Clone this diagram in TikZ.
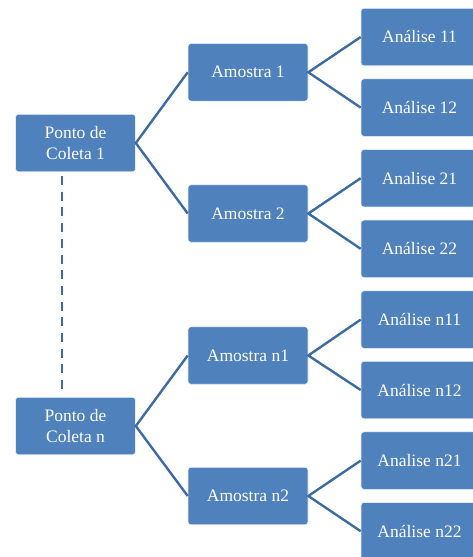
\documentclass[tikz,border=0pt]{standalone}
\usepackage{fontspec}
\setmainfont{Liberation Serif}
\definecolor{boxblue}{HTML}{4F81BD}
\definecolor{linkblue}{HTML}{3D6CA3}
\begin{document}
\begin{tikzpicture}[x=1pt,y=-1pt,
  box/.style={fill=boxblue, draw=white!85!boxblue, line width=0.6pt, rounded corners=3pt,
    minimum width=120pt, minimum height=57.5pt, inner sep=0pt, align=center,
    text=white, font=\fontsize{17.5}{20.5}\selectfont},
  abox/.style={box, minimum width=117pt},
  link/.style={draw=linkblue, line width=2.4pt},
  dlink/.style={draw=linkblue, line width=2.2pt, dash pattern=on 9pt off 6.7pt}]
\useasboundingbox (0,0) rectangle (473,557);
\node[box] (p1) at (75.5,143) {Ponto de\\Coleta 1};
\node[box] (pn) at (75.5,426) {Ponto de\\Coleta n};
\node[box] (a1) at (248,72.3) {Amostra 1};
\node[box] (a2) at (248,213.5) {Amostra 2};
\node[box] (an1) at (248,355.5) {Amostra n1};
\node[box] (an2) at (248,496) {Amostra n2};
\node[abox] (b11) at (419.5,37) {Análise 11};
\node[abox] (b12) at (419.5,107.6) {Análise 12};
\node[abox] (b21) at (419.5,178.2) {Analise 21};
\node[abox] (b22) at (419.5,248.8) {Análise 22};
\node[abox] (bn11) at (419.5,319.6) {Análise n11};
\node[abox] (bn12) at (419.5,390) {Análise n12};
\node[abox] (bn21) at (419.5,460.6) {Analise n21};
\node[abox] (bn22) at (419.5,531.2) {Análise n22};
\foreach \s/\a/\b in {p1/a1/a2, pn/an1/an2, a1/b11/b12, a2/b21/b22, an1/bn11/bn12, an2/bn21/bn22}{
  \draw[link] (\a.west) -- (\s.east) -- (\b.west);
}
\draw[dlink] ([yshift=-4pt]p1.south -| 62,0) coordinate (d1) -- ([yshift=6pt]pn.north -| 62,0) coordinate (d2);
\end{tikzpicture}
\end{document}
